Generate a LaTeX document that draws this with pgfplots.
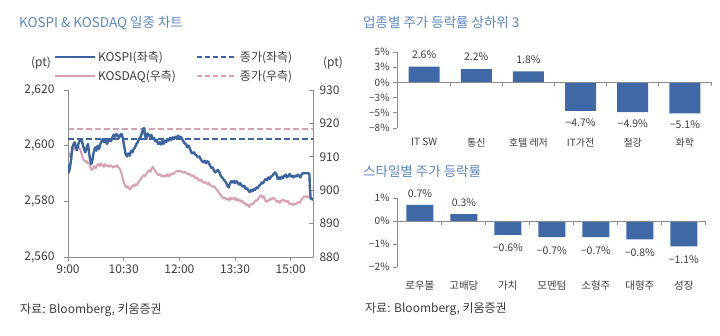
\documentclass[border=0pt]{standalone}
\usepackage{fontspec}
\setmainfont{Noto Sans CJK KR}
\usepackage{pgfplots}
\pgfplotsset{compat=1.18}
\usepackage{pgfplotstable}
\definecolor{kblue}{HTML}{3B64A0}
\definecolor{kpink}{HTML}{D7A1B3}
\definecolor{tblue}{HTML}{5A88C2}
\definecolor{txt}{HTML}{3C3C3C}
\definecolor{agray}{HTML}{8C8C8C}
\definecolor{barblue}{HTML}{3F69A6}

\pgfplotstableread{
t v
0 2593.4
1.1 2590.4
2.7 2591.6
4.8 2594.6
7.0 2599.4
9.2 2600.6
10.8 2601.2
12.9 2599.4
14.6 2598.4
16.7 2600.6
18.9 2601.8
21.6 2602.4
23.7 2600.6
25.9 2598.8
28.0 2597.6
30.2 2599.4
32.3 2600.6
34.0 2597.6
35.6 2595.2
37.7 2593.4
39.3 2594.6
41.5 2597.6
43.7 2599.4
45.8 2598.2
48.0 2600.0
50.1 2598.8
52.3 2600.6
54.4 2601.6
56.6 2602.4
58.7 2601.2
60.9 2602.4
63.0 2600.6
65.2 2601.6
67.4 2602.4
69.5 2601.6
71.7 2603.0
73.8 2603.9
76.0 2603.2
78.1 2604.2
80.3 2603.6
82.5 2602.8
84.6 2603.9
86.8 2604.2
88.9 2602.4
91.1 2599.4
93.2 2597.0
95.4 2596.1
97.5 2597.2
99.7 2596.4
101.9 2598.2
104.0 2597.6
106.2 2598.8
108.3 2599.4
110.5 2600.6
112.6 2601.2
114.8 2602.4
117.0 2603.0
119.1 2604.2
121.3 2606.0
122.9 2606.3
124.5 2603.6
126.6 2602.4
128.3 2604.4
130.4 2603.9
132.6 2603.2
134.7 2603.9
136.9 2602.4
139.0 2602.8
141.2 2601.6
143.4 2602.1
145.5 2600.6
147.7 2601.2
149.8 2600.4
152.0 2601.6
154.1 2600.6
156.3 2601.8
158.4 2601.2
160.6 2602.4
162.7 2601.8
164.9 2602.8
167.1 2602.1
169.2 2603.0
171.4 2602.4
173.5 2603.2
175.7 2602.8
177.8 2603.6
180.0 2603.0
182.1 2603.2
184.3 2602.4
186.5 2601.6
188.6 2600.8
190.8 2600.6
192.9 2599.4
195.1 2600.0
197.2 2598.8
199.4 2597.6
201.5 2597.2
203.7 2597.6
205.9 2596.8
208.0 2596.4
210.2 2595.8
212.3 2596.1
214.5 2595.2
216.6 2594.4
218.8 2594.0
220.9 2594.6
223.1 2593.7
225.3 2594.4
227.4 2594.0
229.6 2592.8
231.7 2592.0
233.9 2592.2
236.0 2591.0
238.2 2590.4
240.3 2591.0
242.5 2591.3
244.7 2590.4
246.8 2589.2
249.0 2588.6
251.1 2588.0
253.3 2587.4
255.4 2586.8
257.6 2585.6
259.7 2585.0
261.4 2586.2
263.5 2587.2
265.7 2586.8
267.8 2587.4
270.0 2586.5
272.1 2587.2
274.3 2586.8
276.4 2586.0
278.6 2586.5
280.8 2585.6
282.9 2585.3
285.1 2585.6
287.2 2584.4
289.4 2584.7
291.6 2583.9
293.7 2583.3
295.9 2584.1
298.0 2583.6
300.2 2584.4
302.3 2584.1
304.5 2585.0
306.6 2584.7
308.8 2585.6
311.0 2586.0
313.1 2586.8
315.3 2586.5
317.4 2587.4
319.6 2588.0
321.7 2587.6
323.9 2588.6
326.0 2588.0
328.2 2588.9
330.3 2589.2
332.5 2589.8
334.7 2590.4
336.8 2589.8
339.0 2588.0
341.1 2588.6
343.3 2588.0
345.4 2588.9
347.6 2588.4
349.7 2589.2
351.9 2589.6
354.1 2588.6
356.2 2589.2
358.4 2589.8
360.5 2588.9
362.7 2589.2
364.8 2588.6
367.0 2589.2
369.1 2588.9
371.3 2589.6
373.5 2589.2
375.6 2588.6
377.8 2589.8
379.9 2590.1
382.6 2590.1
385.3 2590.1
388.0 2590.1
390.2 2589.8
391.2 2583.9
392.3 2580.9
393.9 2580.9
396.0 2580.5
}\kospi

\pgfplotstableread{
t v
0 912.0
1.6 910.5
3.8 910.0
5.9 911.5
8.1 912.2
10.2 913.0
12.4 912.0
14.6 912.8
16.7 913.2
18.9 912.5
21.0 911.5
23.2 910.0
25.3 909.0
27.5 908.5
29.6 908.8
31.8 908.0
34.0 908.2
36.1 907.0
38.3 906.0
40.4 906.5
42.6 907.2
44.7 906.5
46.9 907.5
49.0 907.8
51.2 907.2
53.3 908.0
55.5 907.5
57.7 907.0
59.8 907.8
62.0 907.2
64.1 907.5
66.3 907.0
68.4 907.5
70.6 907.2
72.8 906.8
74.9 907.2
77.1 907.0
79.2 907.5
81.4 906.8
83.5 906.5
85.7 905.5
87.8 904.0
90.0 902.5
92.2 901.5
94.3 900.8
96.5 901.2
98.6 900.5
100.8 900.2
102.9 901.0
105.1 901.5
107.2 901.2
109.4 901.8
111.6 901.5
113.7 902.5
115.9 902.8
118.0 903.5
120.2 904.0
122.3 904.5
124.5 904.2
126.6 904.8
128.8 905.5
131.0 906.0
133.1 905.5
135.3 906.5
137.4 907.0
139.6 906.2
141.7 905.5
143.9 905.0
146.0 904.5
148.2 904.8
150.4 904.2
152.5 904.5
154.7 904.0
156.8 904.5
159.0 904.2
161.1 904.8
163.3 904.2
165.4 904.5
167.6 905.0
169.8 904.8
171.9 905.2
174.1 905.5
176.2 905.8
178.4 905.5
180.5 905.8
182.7 905.7
184.8 905.5
187.0 905.2
189.2 905.5
191.3 905.2
193.5 904.8
195.6 905.0
197.8 904.5
199.9 904.2
202.1 904.5
204.2 904.0
206.4 903.5
208.6 903.8
210.7 903.0
212.9 902.8
215.0 903.2
217.2 902.5
219.3 902.2
221.5 902.5
223.6 902.0
225.8 901.8
227.9 902.2
230.1 901.5
232.3 901.2
234.4 901.0
236.6 901.2
238.7 900.5
240.9 900.0
243.0 899.5
245.2 899.0
247.4 898.5
249.5 897.8
251.7 897.5
253.8 897.8
256.0 897.2
258.1 897.5
260.3 897.0
262.5 897.8
264.6 897.2
266.8 897.5
268.9 897.8
271.1 897.0
273.2 897.5
275.4 896.8
277.5 897.2
279.7 896.5
281.9 896.8
284.0 896.0
286.2 896.2
288.3 895.5
290.5 895.8
292.6 895.0
294.8 895.5
296.9 896.0
299.1 895.8
301.3 896.5
303.4 897.0
305.6 896.8
307.7 897.5
309.9 898.2
312.0 898.5
314.2 897.8
316.3 898.2
318.5 897.0
320.6 896.5
322.8 897.0
325.0 896.8
327.1 897.5
329.3 897.2
331.4 897.8
333.6 897.5
335.7 897.0
337.9 896.5
340.1 896.8
342.2 896.2
344.4 896.8
346.5 897.2
348.7 896.8
350.8 897.0
353.0 896.5
355.1 896.8
357.3 896.0
359.4 895.8
361.6 896.0
363.8 895.5
365.9 896.0
368.1 895.8
370.2 896.2
372.4 896.5
374.5 896.2
376.7 897.0
378.8 897.5
381.0 898.0
383.1 898.2
385.3 898.0
387.5 898.2
389.6 897.8
391.8 898.0
393.9 897.5
396.0 897.5
}\kosdaq

\pgfplotstableread{
x y lab
0 2.6 {2.6\%}
1 2.2 {2.2\%}
2 1.8 {1.8\%}
}\sectorpos
\pgfplotstableread{
x y lab
3 -4.7 {−4.7\%}
4 -4.9 {−4.9\%}
5 -5.1 {−5.1\%}
}\sectorneg

\pgfplotstableread{
x y lab
0 0.7 {0.7\%}
1 0.3 {0.3\%}
}\stylepos
\pgfplotstableread{
x y lab
2 -0.6 {−0.6\%}
3 -0.7 {−0.7\%}
4 -0.7 {−0.7\%}
5 -0.8 {−0.8\%}
6 -1.1 {−1.1\%}
}\styleneg

\begin{document}
\color{txt}
\begin{tikzpicture}[x=1pt,y=1pt]
\path[use as bounding box] (0,0) rectangle (720,336);

% titles and sources
\node[anchor=base west, text=tblue, font=\fontsize{13.5}{15}\selectfont, inner sep=0pt] at (19,308) {KOSPI \& KOSDAQ 일중 차트};
\node[anchor=base west, text=tblue, font=\fontsize{13.5}{15}\selectfont, inner sep=0pt] at (363,308) {업종별 주가 등락률 상하위 3};
\node[anchor=base west, text=tblue, font=\fontsize{13.5}{15}\selectfont, inner sep=0pt] at (363,159) {스타일별 주가 등락률};
\node[anchor=base west, font=\fontsize{12}{14}\selectfont, inner sep=0pt] at (20,22) {자료: Bloomberg, 키움증권};
\node[anchor=base west, font=\fontsize{12}{14}\selectfont, inner sep=0pt] at (365,23) {자료: Bloomberg, 키움증권};
\node[font=\fontsize{12}{14}\selectfont] at (41,273) {(pt)};
\node[font=\fontsize{12}{14}\selectfont] at (333,273) {(pt)};

% KOSDAQ (right axis)
\begin{axis}[
  at={(68pt,79pt)}, anchor=south west, scale only axis,
  width=245pt, height=167pt,
  xmin=0, xmax=396, ymin=880, ymax=930,
  axis x line=none, axis y line*=right,
  ytick={880,890,900,910,920,930},
  tick align=inside, major tick length=4pt,
  axis line style={agray, line width=0.9pt},
  every tick/.style={agray, line width=0.8pt},
  ticklabel style={font=\fontsize{12}{14}\selectfont, text=txt},
  /pgf/number format/assume math mode=true,
  yticklabel style={xshift=3pt},
  legend style={at={(-0.07,1.255)}, anchor=north west, draw=none, fill=none,
    font=\fontsize{12}{14}\selectfont, text=txt, legend columns=2,
    /tikz/every even column/.append style={column sep=18pt},
    row sep=3pt, cells={anchor=west}},
  legend image code/.code={\draw[#1] (0pt,0pt) -- (40pt,0pt);},
]
\addlegendimage{kblue, line width=2pt}
\addlegendentry{KOSPI(좌측)}
\addlegendimage{kblue, line width=2pt, dash pattern=on 5pt off 3pt}
\addlegendentry{종가(좌측)}
\addlegendimage{kpink, line width=2pt}
\addlegendentry{KOSDAQ(우측)}
\addlegendimage{kpink, line width=2pt, dash pattern=on 5pt off 3pt}
\addlegendentry{종가(우측)}
\addplot[forget plot, kpink, line width=2pt, line join=round] table[x=t,y=v] {\kosdaq};
\addplot[forget plot, kpink, line width=2pt, dash pattern=on 6pt off 3pt] coordinates {(0,918.3) (396,918.3)};
\end{axis}

% KOSPI (left axis)
\begin{axis}[
  at={(68pt,79pt)}, anchor=south west, scale only axis,
  width=245pt, height=167pt,
  xmin=0, xmax=396, ymin=2560, ymax=2620,
  axis x line*=bottom, axis y line*=left,
  xtick={0,90,180,270,360},
  xticklabels={9:00,10:30,12:00,13:30,15:00},
  ytick={2560,2580,2600,2620},
  yticklabels={{2,560},{2,580},{2,600},{2,620}},
  tick align=outside, major tick length=4pt,
  axis line style={agray, line width=0.9pt},
  every tick/.style={agray, line width=0.8pt},
  ticklabel style={font=\fontsize{12}{14}\selectfont, text=txt},
  yticklabel style={xshift=-6pt},
]
\addplot[kblue, line width=2pt, dash pattern=on 6pt off 3pt] coordinates {(0,2602.4) (396,2602.4)};
\addplot[kblue, line width=2.4pt, line join=round] table[x=t,y=v] {\kospi};
\end{axis}

% sector bars
\begin{axis}[
  at={(397pt,208pt)}, anchor=south west, scale only axis,
  width=315pt, height=76pt,
  xmin=-0.52, xmax=5.52, ymin=-7.5, ymax=5,
  ybar, bar width=31pt, bar shift=0pt,
  axis y line*=left, axis x line*=bottom,
  x axis line style={draw=none},
  y axis line style={agray, line width=0.9pt},
  xtick={0,1,2,3,4,5},
  xticklabels={IT SW,통신,호텔 레저,IT가전,철강,화학},
  x tick style={draw=none},
  ytick={-7.5,-5,-2.5,0,2.5,5},
  yticklabels={−8\%,−5\%,−3\%,0\%,3\%,5\%},
  y tick style={agray, line width=0.8pt},
  tick align=outside, major tick length=4pt,
  xticklabel style={font=\fontsize{10}{12}\selectfont, text=txt, yshift=-3pt},
  yticklabel style={font=\fontsize{10}{12}\selectfont, text=txt},
  nodes near coords, point meta=explicit symbolic,
  clip=false,
]
\addplot[fill=barblue, draw=none, nodes near coords style={font=\fontsize{10.5}{12}\selectfont, text=txt, anchor=south, inner ysep=8pt}] table[x=x,y=y,meta=lab] {\sectorpos};
\addplot[fill=barblue, draw=none, nodes near coords style={font=\fontsize{10.5}{12}\selectfont, text=txt, anchor=north, inner ysep=7pt}] table[x=x,y=y,meta=lab] {\sectorneg};
\draw[agray, line width=0.9pt] (axis cs:-0.52,0) -- (axis cs:5.52,0);
\pgfplotsinvokeforeach{0.5,1.5,2.5,3.5,4.5,5.5}{
  \draw[agray, line width=0.8pt] (axis cs:#1,0) -- ++(0pt,-4pt);
}
\end{axis}

% style bars
\begin{axis}[
  at={(397pt,69pt)}, anchor=south west, scale only axis,
  width=308pt, height=69pt,
  xmin=-0.52, xmax=6.48, ymin=-2, ymax=1,
  ybar, bar width=27pt, bar shift=0pt,
  axis y line*=left, axis x line*=bottom,
  x axis line style={draw=none},
  y axis line style={agray, line width=0.9pt},
  xtick={0,1,2,3,4,5,6},
  xticklabels={로우볼,고배당,가치,모멘텀,소형주,대형주,성장},
  x tick style={draw=none},
  ytick={-2,-1,0,1},
  yticklabels={−2\%,−1\%,0\%,1\%},
  y tick style={agray, line width=0.8pt},
  tick align=outside, major tick length=4pt,
  xticklabel style={font=\fontsize{10.5}{12}\selectfont, text=txt, yshift=-6pt},
  yticklabel style={font=\fontsize{10}{12}\selectfont, text=txt},
  nodes near coords, point meta=explicit symbolic,
  clip=false,
]
\addplot[fill=barblue, draw=none, nodes near coords style={font=\fontsize{10.5}{12}\selectfont, text=txt, anchor=south, inner ysep=7pt}] table[x=x,y=y,meta=lab] {\stylepos};
\addplot[fill=barblue, draw=none, nodes near coords style={font=\fontsize{10.5}{12}\selectfont, text=txt, anchor=north, inner ysep=9pt}] table[x=x,y=y,meta=lab] {\styleneg};
\draw[agray, line width=0.9pt] (axis cs:-0.52,0) -- (axis cs:6.48,0);
\pgfplotsinvokeforeach{0.5,1.5,2.5,3.5,4.5,5.5,6.5}{
  \draw[agray, line width=0.8pt] (axis cs:#1,0) -- ++(0pt,-4pt);
}
\end{axis}
\end{tikzpicture}
\end{document}
